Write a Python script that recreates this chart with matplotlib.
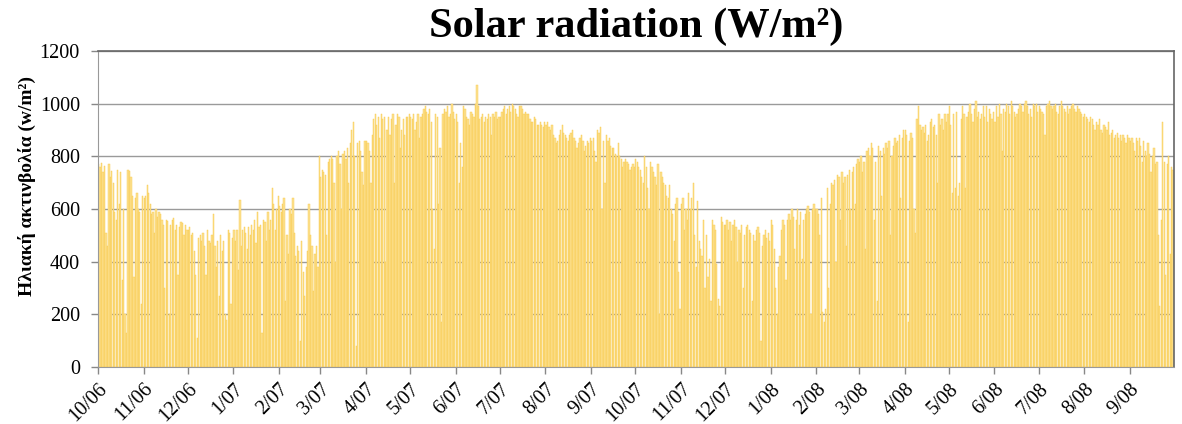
import numpy as np
import matplotlib
matplotlib.use("Agg")
import matplotlib.pyplot as plt

# daily peak solar radiation (W/m2), one list per month
oct06 = [770, 760, 775, 740, 765, 510, 460, 770, 720, 745, 700, 590, 560, 750, 620, 740, 330, 600, 200, 130,
         750, 745, 720, 650, 340, 640, 660, 600, 590, 240, 650]
nov06 = [640, 650, 690, 660, 620, 580, 590, 510, 600, 570, 590, 580, 560, 540, 300, 560, 555, 200, 540, 560,
         565, 520, 540, 350, 530, 550, 545, 500, 540, 520]
dec06 = [520, 530, 500, 510, 440, 350, 110, 490, 500, 480, 510, 460, 350, 520, 480, 470, 500, 580, 460, 380,
         480, 270, 500, 440, 480, 200, 180, 520, 510, 240, 490]
jan07 = [520, 480, 520, 370, 635, 460, 520, 530, 510, 450, 530, 500, 540, 520, 560, 470, 590, 530, 540, 130,
         560, 550, 480, 590, 520, 560, 680, 620, 520, 600, 650]
feb07 = [610, 590, 620, 640, 250, 500, 430, 600, 580, 640, 510, 420, 460, 440, 100, 480, 360, 270, 380, 440,
         620, 500, 460, 290, 430, 460, 380, 800]
mar07 = [720, 750, 740, 730, 500, 780, 790, 800, 790, 700, 400, 800, 820, 770, 600, 810, 820, 790, 830, 700,
         850, 900, 930, 800, 80, 850, 860, 820, 740, 690, 860]
apr07 = [860, 850, 820, 700, 880, 940, 960, 920, 950, 870, 960, 940, 950, 400, 900, 950, 880, 940, 960, 700,
         920, 960, 950, 830, 900, 940, 880, 950, 950, 960]
may07 = [950, 940, 960, 900, 930, 960, 870, 950, 960, 980, 990, 970, 960, 980, 930, 600, 450, 960, 950, 620,
         830, 170, 960, 980, 970, 990, 950, 960, 1000, 970, 940]
jun07 = [960, 930, 700, 850, 760, 990, 980, 950, 940, 920, 970, 960, 950, 1000, 1070, 990, 940, 950, 960, 930,
         950, 940, 960, 950, 880, 960, 950, 970, 940, 950]
jul07 = [950, 970, 980, 990, 960, 980, 990, 970, 1000, 990, 980, 960, 950, 990, 990, 980, 960, 970, 960, 960,
         940, 930, 930, 950, 940, 920, 920, 930, 920, 910, 930]
aug07 = [920, 930, 910, 900, 920, 880, 870, 850, 860, 880, 900, 920, 890, 880, 870, 860, 880, 890, 900, 870,
         860, 830, 850, 870, 880, 860, 820, 840, 860, 850, 870]
sep07 = [860, 870, 820, 780, 900, 890, 910, 600, 860, 700, 880, 860, 870, 840, 830, 830, 810, 800, 850, 800,
         790, 760, 780, 790, 780, 770, 750, 760, 770, 760]
oct07 = [790, 780, 760, 750, 720, 700, 800, 760, 680, 600, 780, 760, 740, 720, 690, 770, 200, 740, 720, 700,
         690, 650, 640, 690, 600, 580, 480, 620, 640, 360, 220]
nov07 = [620, 640, 520, 600, 560, 660, 600, 640, 700, 500, 380, 630, 480, 450, 420, 560, 300, 500, 340, 410,
         250, 560, 540, 520, 390, 260, 230, 570, 550, 540]
dec07 = [540, 560, 520, 550, 480, 540, 560, 530, 400, 520, 510, 540, 300, 500, 530, 540, 520, 510, 250, 500,
         480, 520, 530, 510, 100, 460, 500, 520, 490, 510, 480]
jan08 = [560, 540, 450, 300, 200, 380, 420, 520, 560, 540, 330, 560, 580, 560, 600, 570, 450, 560, 600, 540,
         590, 410, 560, 580, 600, 610, 590, 200, 600, 620, 600]
feb08 = [600, 580, 500, 640, 210, 170, 220, 680, 300, 620, 700, 690, 710, 400, 730, 720, 560, 740, 700, 720,
         460, 730, 750, 600, 740, 760, 620, 770, 790]
mar08 = [780, 800, 740, 780, 450, 820, 830, 800, 850, 830, 560, 780, 250, 840, 820, 650, 830, 810, 850, 830,
         860, 500, 800, 840, 870, 850, 860, 880, 640, 870, 900]
apr08 = [900, 880, 170, 860, 890, 870, 600, 510, 940, 990, 920, 900, 910, 890, 920, 860, 880, 930, 940, 910,
         920, 880, 700, 960, 920, 940, 900, 960, 930, 960]
may08 = [990, 920, 660, 960, 680, 970, 650, 700, 940, 990, 960, 680, 950, 970, 1000, 960, 930, 980, 1010, 950,
         970, 940, 960, 990, 950, 990, 930, 980, 960, 940, 970]
jun08 = [930, 990, 950, 1000, 960, 820, 980, 970, 1000, 990, 960, 1010, 990, 970, 950, 960, 980, 1000, 990, 970,
         1000, 1010, 990, 960, 980, 950, 1000, 990, 1000, 970]
jul08 = [990, 980, 970, 960, 880, 990, 1000, 1010, 990, 980, 990, 1000, 970, 960, 990, 1010, 990, 980, 970, 990,
         960, 980, 990, 1000, 980, 970, 990, 980, 970, 960, 950]
aug08 = [960, 950, 940, 930, 950, 940, 920, 900, 930, 920, 940, 900, 890, 920, 910, 900, 930, 880, 890, 900,
         870, 880, 890, 870, 880, 860, 880, 870, 850, 880, 870]
sep08 = [860, 870, 850, 820, 870, 860, 870, 840, 780, 860, 820, 800, 850, 810, 740, 800, 830, 770, 780, 500,
         230, 560, 930, 780, 350, 770, 800, 430, 760, 750]

months = [oct06, nov06, dec06, jan07, feb07, mar07, apr07, may07, jun07, jul07, aug07, sep07,
          oct07, nov07, dec07, jan08, feb08, mar08, apr08, may08, jun08, jul08, aug08, sep08]
month_labels = ["10/06", "11/06", "12/06", "1/07", "2/07", "3/07", "4/07", "5/07", "6/07", "7/07",
                "8/07", "9/07", "10/07", "11/07", "12/07", "1/08", "2/08", "3/08", "4/08", "5/08",
                "6/08", "7/08", "8/08", "9/08"]

values = np.concatenate([np.array(m, dtype=float) for m in months])
days = np.arange(len(values))
month_starts = np.cumsum([0] + [len(m) for m in months[:-1]])

fig = plt.figure(figsize=(11.82, 4.24), dpi=100)
ax = fig.add_axes([0.0829, 0.1344, 0.9103, 0.7453])

ax.bar(days, values, width=0.85, align="edge", color="#FDE293",
       edgecolor="#F8C846", linewidth=0.3, zorder=2)

ax.set_xlim(0, len(values))
ax.set_ylim(0, 1200)
ax.set_yticks(range(0, 1201, 200))
ax.grid(True, axis="y", color="#9a9a9a", linewidth=1.0, zorder=1)
ax.set_axisbelow(True)

ax.set_xticks(month_starts)
ax.set_xticklabels(month_labels, rotation=45, ha="right", rotation_mode="anchor",
                   fontsize=14.5, family="Liberation Serif")
for lab in ax.get_yticklabels():
    lab.set_family("Liberation Serif")
    lab.set_fontsize(14.5)
ax.tick_params(axis="both", colors="#888888", length=5, width=1, labelcolor="black")
ax.tick_params(axis="x", pad=4)
ax.tick_params(axis="y", pad=8)

for side in ["left", "bottom"]:
    ax.spines[side].set_color("#999999")
ax.spines["top"].set_color("#666666")
ax.spines["right"].set_color("#666666")
ax.spines["top"].set_linewidth(1.2)
ax.spines["right"].set_linewidth(1.2)

fig.text(0.538, 0.936, "Solar radiation (W/m²)", ha="center", va="center",
         fontsize=30.5, fontweight="bold", family="Liberation Serif")
fig.text(0.023, 0.561, "Ηλιακή ακτινβολία (w/m²)", ha="center", va="center", rotation=90,
         fontsize=14, fontweight="bold", family="Liberation Serif")

fig.savefig("out.png", dpi=100)
